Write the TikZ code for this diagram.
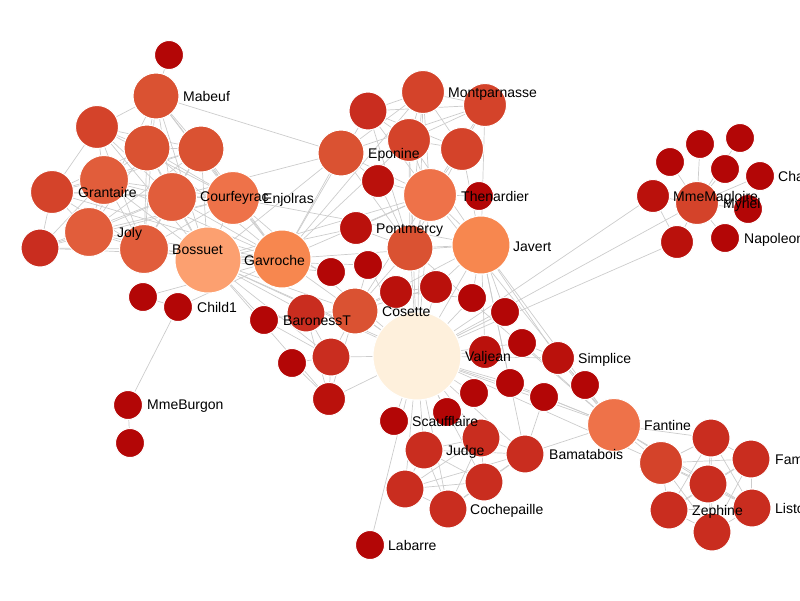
\documentclass[tikz,border=0pt]{standalone}
\usepackage{fontspec}
\setmainfont{Liberation Sans}
\usetikzlibrary{backgrounds}
\definecolor{red1}{HTML}{B30606}
\definecolor{red2}{HTML}{BA110C}
\definecolor{red3}{HTML}{C92D1F}
\definecolor{red4}{HTML}{D4432A}
\definecolor{red5}{HTML}{DA5232}
\definecolor{red6}{HTML}{E15D3B}
\definecolor{red7}{HTML}{EE7249}
\definecolor{red8}{HTML}{F7874F}
\definecolor{red9}{HTML}{FCA070}
\definecolor{red10}{HTML}{FEF0DC}
\definecolor{linkgray}{HTML}{CCCCCC}
\tikzset{
  vertex/.style={circle, draw=white, line width=1pt, inner sep=0pt},
  k1/.style={vertex, fill=red1, minimum size=29pt},
  k2/.style={vertex, fill=red2, minimum size=33pt},
  k3/.style={vertex, fill=red3, minimum size=38pt},
  k4/.style={vertex, fill=red4, minimum size=43pt},
  k5/.style={vertex, fill=red5, minimum size=46pt},
  k6/.style={vertex, fill=red6, minimum size=49pt},
  k7/.style={vertex, fill=red7, minimum size=53pt},
  k8/.style={vertex, fill=red8, minimum size=58pt},
  k9/.style={vertex, fill=red9, minimum size=66pt},
  k10/.style={vertex, fill=red10, minimum size=88pt},
  tag/.style={anchor=mid west, inner sep=0pt, yshift=-2.5pt, font=\fontsize{14}{16}\selectfont},
  link/.style={draw=linkgray, line width=0.7pt},
}
\begin{document}
\begin{tikzpicture}[x=1pt,y=-1pt]
      \useasboundingbox (0,0) rectangle (800,600);
      \path
        (169,55) node[k1] (0){}
        (156,96) node[k5] (1){}
        (97,127) node[k4] (2){}
        (147,148) node[k5] (3){}
        (201,149) node[k5] (4){}
        (104,180) node[k6] (5){}
        (52,192) node[k4] (6){}
        (172,197) node[k6] (7){}
        (233,198) node[k7] (8){}
        (89,232) node[k6] (9){}
        (40,248) node[k3] (10){}
        (144,249) node[k6] (11){}
        (208,260) node[k9] (12){}
        (282,259) node[k8] (13){}
        (143,297) node[k1] (14){}
        (178,307) node[k1] (15){}
        (128,405) node[k1] (16){}
        (130,443) node[k1] (17){}
        (264,320) node[k1] (18){}
        (306,313) node[k3] (19){}
        (355,311) node[k5] (20){}
        (292,363) node[k1] (21){}
        (331,357) node[k3] (22){}
        (329,399) node[k2] (23){}
        (368,111) node[k3] (24){}
        (423,92) node[k4] (25){}
        (485,105) node[k4] (26){}
        (409,140) node[k4] (27){}
        (341,153) node[k5] (28){}
        (462,149) node[k4] (29){}
        (378,181) node[k2] (30){}
        (430,195) node[k7] (31){}
        (479,196) node[k1] (32){}
        (356,228) node[k2] (33){}
        (410,248) node[k5] (34){}
        (481,245) node[k8] (35){}
        (331,272) node[k1] (36){}
        (368,265) node[k1] (37){}
        (396,292) node[k2] (38){}
        (436,287) node[k2] (39){}
        (472,298) node[k1] (40){}
        (505,312) node[k1] (41){}
        (417,356) node[k10] (42){}
        (485,352) node[k2] (43){}
        (522,343) node[k1] (44){}
        (558,358) node[k2] (45){}
        (510,383) node[k1] (46){}
        (585,385) node[k1] (47){}
        (474,393) node[k1] (48){}
        (544,397) node[k1] (49){}
        (394,421) node[k1] (50){}
        (447,412) node[k1] (51){}
        (481,438) node[k3] (52){}
        (424,450) node[k3] (53){}
        (525,454) node[k3] (54){}
        (405,489) node[k3] (55){}
        (484,482) node[k3] (56){}
        (448,509) node[k3] (57){}
        (370,545) node[k1] (58){}
        (614,425) node[k7] (59){}
        (711,438) node[k3] (60){}
        (661,463) node[k4] (61){}
        (751,459) node[k3] (62){}
        (708,484) node[k3] (63){}
        (669,510) node[k3] (64){}
        (752,508) node[k3] (65){}
        (712,532) node[k3] (66){}
        (740,138) node[k1] (67){}
        (700,144) node[k1] (68){}
        (670,162) node[k1] (69){}
        (725,169) node[k1] (70){}
        (760,176) node[k1] (71){}
        (653,196) node[k2] (72){}
        (697,203) node[k4] (73){}
        (748,209) node[k1] (74){}
        (725,238) node[k1] (75){}
        (677,242) node[k2] (76){};
      \path
        (183,96) node[tag] (mabeuf){Mabeuf}
        (78,192) node[tag] (grantaire){Grantaire}
        (200,196) node[tag] (courfeyrac){Courfeyrac}
        (263,198) node[tag] (enjolras){Enjolras}
        (117,232) node[tag] (joly){Joly}
        (172,249) node[tag] (bossuet){Bossuet}
        (244,260) node[tag] (gavroche){Gavroche}
        (197,307) node[tag] (child1){Child1}
        (147,404) node[tag] (mmeburgon){MmeBurgon}
        (283,320) node[tag] (baronesst){BaronessT}
        (382,311) node[tag] (cosette){Cosette}
        (448,92) node[tag] (montparnasse){Montparnasse}
        (368,153) node[tag] (eponine){Eponine}
        (461,196) node[tag] (thenardier){Thenardier}
        (376,228) node[tag] (pontmercy){Pontmercy}
        (513,246) node[tag] (javert){Javert}
        (465,356) node[tag] (valjean){Valjean}
        (578,358) node[tag] (simplice){Simplice}
        (412,421) node[tag] (scaufflaire){Scaufflaire}
        (446,450) node[tag] (judge){Judge}
        (549,454) node[tag] (bamatabois){Bamatabois}
        (470,509) node[tag] (cochepaille){Cochepaille}
        (388,545) node[tag] (labarre){Labarre}
        (644,425) node[tag] (fantine){Fantine}
        (775,459) node[tag] (fameuil){Fameuil}
        (692,510) node[tag] (zephine){Zephine}
        (775,508) node[tag] (listolier){Listolier}
        (778,176) node[tag] (champtercier){Champtercier}
        (673,196) node[tag] (mmemagloire){MmeMagloire}
        (723,203) node[tag] (myriel){Myriel}
        (744,238) node[tag] (napoleon){Napoleon};
      \begin{scope}[on background layer={every path/.style={link}}]
        % bishop
        \draw (73) to (67);
        \draw (73) to (68);
        \draw (73) to (69);
        \draw (73) to (70);
        \draw (73) to (71);
        \draw (73) to (72);
        \draw (73) to (74);
        \draw (73) to (75);
        \draw (73) to (76);
        \draw (72) to (76);
        \draw (42) to (72);
        \draw (42) to (76);
        \draw (42) to (73);
        \draw (42) to (58);
        % court
        \draw (52) to (53);
        \draw (52) to (55);
        \draw (52) to (56);
        \draw (52) to (57);
        \draw (53) to (55);
        \draw (53) to (56);
        \draw (53) to (57);
        \draw (55) to (56);
        \draw (55) to (57);
        \draw (56) to (57);
        \draw (54) to (52);
        \draw (54) to (53);
        \draw (54) to (55);
        \draw (54) to (56);
        \draw (54) to (57);
        \draw (42) to (52);
        \draw (42) to (53);
        \draw (42) to (55);
        \draw (42) to (56);
        \draw (42) to (57);
        \draw (42) to (54);
        \draw (42) to (50);
        \draw (42) to (51);
        % fantine
        \draw (61) to (59);
        \draw (61) to (60);
        \draw (61) to (62);
        \draw (61) to (63);
        \draw (61) to (64);
        \draw (61) to (65);
        \draw (61) to (66);
        \draw (60) to (62);
        \draw (60) to (63);
        \draw (60) to (64);
        \draw (60) to (65);
        \draw (60) to (66);
        \draw (62) to (63);
        \draw (62) to (64);
        \draw (62) to (65);
        \draw (62) to (66);
        \draw (63) to (64);
        \draw (63) to (65);
        \draw (63) to (66);
        \draw (64) to (65);
        \draw (64) to (66);
        \draw (65) to (66);
        \draw (59) to (60);
        \draw (59) to (63);
        \draw (59) to (65);
        \draw (59) to (42);
        \draw (59) to (35);
        \draw (59) to (31);
        \draw (59) to (34);
        \draw (59) to (54);
        \draw (59) to (45);
        \draw (59) to (47);
        \draw (59) to (49);
        \draw (59) to (44);
        \draw (59) to (46);
        \draw (45) to (42);
        \draw (45) to (35);
        \draw (45) to (47);
        \draw (45) to (44);
        \draw (43) to (42);
        \draw (43) to (35);
        \draw (44) to (42);
        \draw (46) to (42);
        \draw (46) to (35);
        \draw (48) to (42);
        \draw (49) to (42);
        \draw (49) to (54);
        % javert, thenardier
        \draw (35) to (42);
        \draw (35) to (31);
        \draw (35) to (34);
        \draw (35) to (20);
        \draw (35) to (13);
        \draw (35) to (8);
        \draw (35) to (54);
        \draw (35) to (41);
        \draw (35) to (40);
        \draw (35) to (26);
        \draw (35) to (29);
        \draw (35) to (39);
        \draw (35) to (27);
        \draw (31) to (34);
        \draw (31) to (28);
        \draw (31) to (24);
        \draw (31) to (25);
        \draw (31) to (26);
        \draw (31) to (27);
        \draw (31) to (29);
        \draw (31) to (32);
        \draw (31) to (20);
        \draw (31) to (12);
        \draw (31) to (13);
        \draw (31) to (33);
        \draw (31) to (42);
        \draw (31) to (30);
        \draw (34) to (20);
        \draw (34) to (28);
        \draw (34) to (24);
        \draw (34) to (25);
        \draw (34) to (27);
        \draw (34) to (29);
        \draw (34) to (30);
        \draw (34) to (42);
        \draw (34) to (33);
        \draw (24) to (25);
        \draw (24) to (26);
        \draw (24) to (27);
        \draw (24) to (29);
        \draw (25) to (26);
        \draw (25) to (27);
        \draw (25) to (29);
        \draw (26) to (27);
        \draw (26) to (29);
        \draw (27) to (29);
        \draw (13) to (24);
        \draw (13) to (25);
        \draw (13) to (27);
        \draw (42) to (25);
        \draw (42) to (27);
        \draw (28) to (25);
        \draw (28) to (26);
        \draw (28) to (12);
        \draw (28) to (1);
        \draw (28) to (7);
        \draw (28) to (30);
        \draw (28) to (13);
        % marius, gavroche
        \draw (12) to (20);
        \draw (12) to (42);
        \draw (12) to (13);
        \draw (12) to (8);
        \draw (12) to (7);
        \draw (12) to (11);
        \draw (12) to (9);
        \draw (12) to (4);
        \draw (12) to (5);
        \draw (12) to (3);
        \draw (12) to (2);
        \draw (12) to (1);
        \draw (12) to (22);
        \draw (12) to (19);
        \draw (12) to (18);
        \draw (12) to (33);
        \draw (12) to (36);
        \draw (12) to (61);
        \draw (12) to (37);
        \draw (12) to (23);
        \draw (13) to (8);
        \draw (13) to (7);
        \draw (13) to (11);
        \draw (13) to (9);
        \draw (13) to (3);
        \draw (13) to (4);
        \draw (13) to (5);
        \draw (13) to (1);
        \draw (13) to (14);
        \draw (13) to (15);
        \draw (13) to (42);
        \draw (13) to (36);
        \draw (13) to (6);
        \draw (13) to (10);
        % barricade
        \draw (8) to (3);
        \draw (8) to (4);
        \draw (8) to (5);
        \draw (8) to (7);
        \draw (8) to (9);
        \draw (8) to (11);
        \draw (8) to (2);
        \draw (8) to (6);
        \draw (8) to (10);
        \draw (7) to (3);
        \draw (7) to (4);
        \draw (7) to (5);
        \draw (7) to (9);
        \draw (7) to (11);
        \draw (7) to (2);
        \draw (7) to (6);
        \draw (7) to (10);
        \draw (3) to (4);
        \draw (3) to (5);
        \draw (3) to (9);
        \draw (3) to (11);
        \draw (3) to (2);
        \draw (3) to (6);
        \draw (4) to (5);
        \draw (4) to (9);
        \draw (4) to (11);
        \draw (4) to (2);
        \draw (4) to (6);
        \draw (5) to (9);
        \draw (5) to (11);
        \draw (5) to (6);
        \draw (5) to (10);
        \draw (5) to (2);
        \draw (9) to (11);
        \draw (9) to (6);
        \draw (9) to (10);
        \draw (11) to (6);
        \draw (11) to (10);
        \draw (11) to (2);
        \draw (6) to (10);
        \draw (2) to (6);
        \draw (1) to (0);
        \draw (1) to (3);
        \draw (1) to (4);
        \draw (1) to (7);
        \draw (1) to (8);
        \draw (1) to (11);
        \draw (1) to (9);
        \draw (1) to (2);
        \draw (14) to (15);
        \draw (16) to (15);
        \draw (16) to (17);
        % cosette
        \draw (20) to (22);
        \draw (20) to (23);
        \draw (20) to (19);
        \draw (20) to (37);
        \draw (20) to (38);
        \draw (20) to (39);
        \draw (20) to (42);
        \draw (22) to (23);
        \draw (22) to (19);
        \draw (22) to (18);
        \draw (22) to (21);
        \draw (22) to (42);
        \draw (23) to (19);
        \draw (23) to (42);
        \draw (23) to (21);
        \draw (19) to (18);
        \draw (37) to (42);
        \draw (38) to (42);
        \draw (39) to (42);
        \draw (38) to (39);
        \draw (40) to (38);
        \draw (40) to (42);
        \draw (41) to (42);
        \draw (8) to (42);
      \end{scope}
    \end{tikzpicture}
\end{document}
